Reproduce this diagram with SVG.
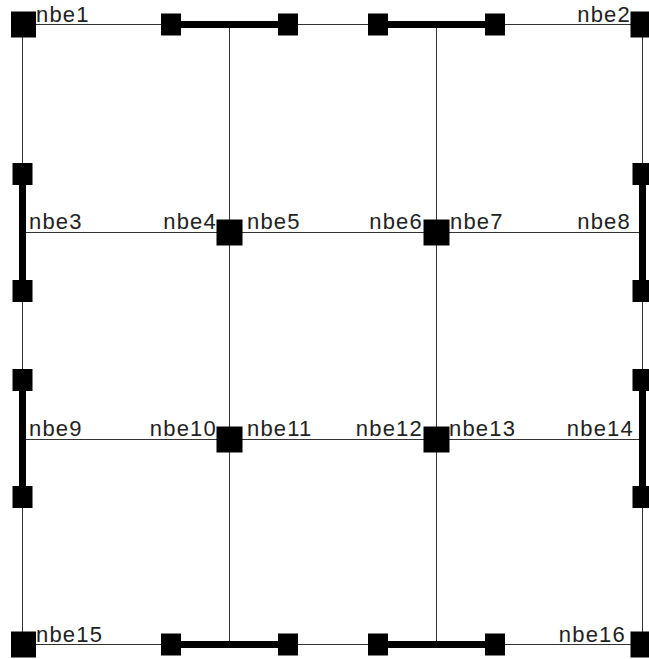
<svg xmlns="http://www.w3.org/2000/svg" width="649" height="659" viewBox="0 0 649 659">
<style>
.ln{stroke:#333;stroke-width:1;fill:none}
.bar{stroke:#000;stroke-width:7;fill:none}
.sq{fill:#000}
.lb{font-family:"Liberation Sans",Arial,sans-serif;font-size:22px;fill:#222;letter-spacing:1.2px}
.r{text-anchor:end}
</style>
<rect width="649" height="659" fill="#fff"/>
<g id="connectors">
<path class="ln" d="M22.5 24.5H642.5M22.5 232.5H642.5M22.5 439.5H642.5M22.5 644.5H642.5M22.5 24.5V644.5M229.5 24.5V644.5M436.5 24.5V644.5M642.5 24.5V644.5"/>
<path class="bar" d="M171 24.5H288M378 24.5H495M171 644.5H288M378 644.5H495M22.5 174V291M22.5 380V497M642.5 174V291M642.5 380V497"/>
</g>
<g id="ports">
<rect class="sq" x="161" y="13.5" width="20" height="22"/>
<rect class="sq" x="278" y="13.5" width="20" height="22"/>
<rect class="sq" x="368" y="13.5" width="20" height="22"/>
<rect class="sq" x="485" y="13.5" width="20" height="22"/>
<rect class="sq" x="161" y="633.5" width="20" height="22"/>
<rect class="sq" x="278" y="633.5" width="20" height="22"/>
<rect class="sq" x="368" y="633.5" width="20" height="22"/>
<rect class="sq" x="485" y="633.5" width="20" height="22"/>
<rect class="sq" x="12.5" y="163" width="20" height="22"/>
<rect class="sq" x="12.5" y="280" width="20" height="22"/>
<rect class="sq" x="12.5" y="369" width="20" height="22"/>
<rect class="sq" x="12.5" y="486" width="20" height="22"/>
<rect class="sq" x="632.5" y="163" width="20" height="22"/>
<rect class="sq" x="632.5" y="280" width="20" height="22"/>
<rect class="sq" x="632.5" y="369" width="20" height="22"/>
<rect class="sq" x="632.5" y="486" width="20" height="22"/>
</g>
<g id="nbe1"><rect class="sq" x="11" y="11.5" width="25" height="26"/><text class="lb" x="36" y="22">nbe1</text></g>
<g id="nbe2"><rect class="sq" x="630.5" y="11.5" width="25" height="26"/><text class="lb r" x="631" y="22">nbe2</text></g>
<g id="nbe3"><text class="lb" x="29" y="229">nbe3</text></g>
<g id="nbe4"><rect class="sq" x="216.5" y="219.5" width="26" height="26"/><text class="lb r" x="217" y="229">nbe4</text></g>
<g id="nbe5"><text class="lb" x="247" y="229">nbe5</text></g>
<g id="nbe6"><rect class="sq" x="423.5" y="219.5" width="26" height="26"/><text class="lb r" x="423" y="229">nbe6</text></g>
<g id="nbe7"><text class="lb" x="450" y="229">nbe7</text></g>
<g id="nbe8"><text class="lb r" x="631" y="229">nbe8</text></g>
<g id="nbe9"><text class="lb" x="29" y="436">nbe9</text></g>
<g id="nbe10"><rect class="sq" x="216.5" y="426.5" width="26" height="26"/><text class="lb r" x="217" y="436">nbe10</text></g>
<g id="nbe11"><text class="lb" x="247" y="436">nbe11</text></g>
<g id="nbe12"><rect class="sq" x="423.5" y="426.5" width="26" height="26"/><text class="lb r" x="423" y="436">nbe12</text></g>
<g id="nbe13"><text class="lb" x="449" y="436">nbe13</text></g>
<g id="nbe14"><text class="lb r" x="634" y="436">nbe14</text></g>
<g id="nbe15"><rect class="sq" x="11" y="631.5" width="25" height="26"/><text class="lb" x="36" y="642">nbe15</text></g>
<g id="nbe16"><rect class="sq" x="630.5" y="631.5" width="25" height="26"/><text class="lb r" x="626" y="642">nbe16</text></g>
</svg>
